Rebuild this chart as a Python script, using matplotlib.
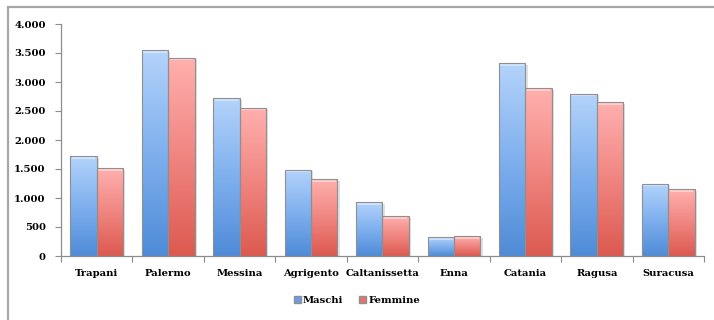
import numpy as np
import matplotlib.pyplot as plt
from matplotlib.patches import Rectangle, Patch
from matplotlib.colors import LinearSegmentedColormap

# province e popolazione per sesso
province = ["Trapani", "Palermo", "Messina", "Agrigento", "Caltanissetta",
            "Enna", "Catania", "Ragusa", "Suracusa"]
maschi = [1720, 3550, 2720, 1490, 925, 322, 3320, 2800, 1250]
femmine = [1515, 3420, 2560, 1320, 685, 340, 2890, 2650, 1150]
yticks = [0, 500, 1000, 1500, 2000, 2500, 3000, 3500, 4000]
ylabels = ["0", "500", "1.000", "1.500", "2.000", "2.500", "3.000", "3.500", "4.000"]

font = dict(family=["DejaVu Serif"], weight="bold")
fs = 7.2

blu = LinearSegmentedColormap.from_list("blu", ["#4f8bd8", "#7fb0ee", "#b3d3fb"])
rosso = LinearSegmentedColormap.from_list("rosso", ["#dc5a50", "#f08580", "#ffb0ae"])

fig = plt.figure(figsize=(7.14, 3.2), dpi=100)
ax = fig.add_axes([0.0854, 0.2, 0.9006, 0.725])

# cornice grigia del grafico
fig.patches.append(Rectangle((8 / 714, -0.1), 1.0, 1 - 7 / 320 + 0.1,
                             transform=fig.transFigure, fill=False,
                             edgecolor="#a6a6a6", linewidth=1.6, zorder=0))

x = np.arange(len(province))
w = 0.37
grad = np.linspace(0, 1, 100).reshape(-1, 1)


def barre(xpos, vals, cmap):
    bars = ax.bar(xpos, vals, w, color="none", edgecolor="#8f8f8f",
                  linewidth=0.8, zorder=3)
    for b in bars:
        bx, by = b.get_x(), b.get_y()
        bw, bh = b.get_width(), b.get_height()
        # ombra leggera
        ax.add_patch(Rectangle((bx + 0.03, by), bw, bh - 25, color="#000000",
                               alpha=0.12, linewidth=0, zorder=1))
        im = ax.imshow(grad, cmap=cmap, origin="lower", aspect="auto",
                       extent=(bx, bx + bw, by, by + bh), zorder=2)
        im.set_clip_path(b)
        # riflesso in cima
        ax.add_patch(Rectangle((bx + 0.02, by + bh - 45), bw - 0.04, 35,
                               color="white", alpha=0.4, linewidth=0, zorder=2.5))
    return bars


barre(x - w / 2, maschi, blu)
barre(x + w / 2, femmine, rosso)

ax.set_xlim(-0.5, len(province) - 0.5)
ax.set_ylim(0, 4000)
ax.set_yticks(yticks)
ax.set_yticklabels(ylabels, fontsize=fs, **font)
ax.set_xticks(np.arange(len(province) + 1) - 0.5)
ax.set_xticklabels([])
ax.set_xticks(x, minor=True)
ax.set_xticklabels(province, minor=True, fontsize=fs, **font)
ax.tick_params(axis="x", which="minor", length=0, pad=9)
ax.tick_params(axis="x", which="major", length=4, color="#8c8c8c")
ax.tick_params(axis="y", length=4, color="#8c8c8c", pad=7)
for s in ["top", "right"]:
    ax.spines[s].set_visible(False)
for s in ["left", "bottom"]:
    ax.spines[s].set_color("#8c8c8c")
    ax.spines[s].set_linewidth(0.9)

handles = [Patch(facecolor="#6a9fe4", edgecolor="#8f8f8f", label="Maschi"),
           Patch(facecolor="#e8706a", edgecolor="#8f8f8f", label="Femmine")]
fig.legend(handles=handles, loc="center", bbox_to_anchor=(0.5, 0.06), ncol=2,
           frameon=False, prop=dict(size=fs, **font), handlelength=0.7,
           handleheight=0.7, handletextpad=0.2, columnspacing=1.6)

fig.savefig("out.png", dpi=100)
